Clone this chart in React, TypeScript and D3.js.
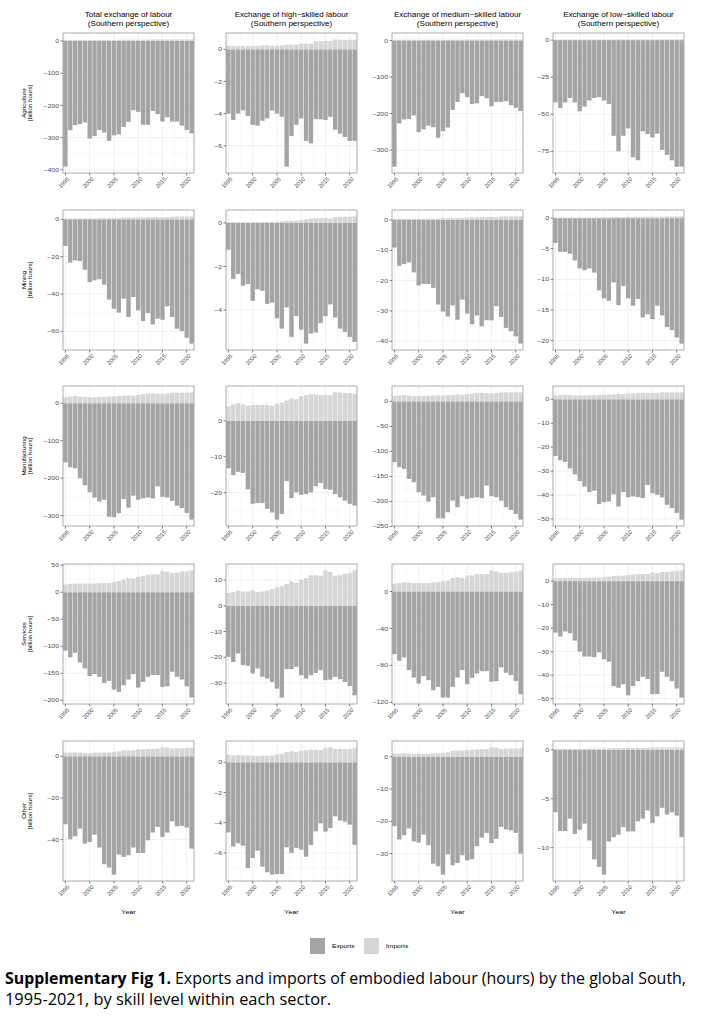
import React from 'react';
import * as d3 from 'd3';

// ---------- categories ----------
const years = [1995,1996,1997,1998,1999,2000,2001,2002,2003,2004,2005,2006,2007,2008,2009,2010,2011,2012,2013,2014,2015,2016,2017,2018,2019,2020,2021];
const yearTicks = [1995, 2000, 2005, 2010, 2015, 2020];
const rowLabels = ['Agriculture', 'Mining', 'Manufacturing', 'Services', 'Other'];
const colTitles = [
  'Total exchange of labour',
  'Exchange of high\u2212skilled labour',
  'Exchange of medium\u2212skilled labour',
  'Exchange of low\u2212skilled labour',
];
const colSubtitle = '(Southern perspective)';
const unitLabel = '[billion hours]';
const legendLabels = ['Exports', 'Imports'];

// ---------- Agriculture ----------
const agriTotalExp = [-390,-277,-261,-258,-253,-303,-295,-276,-284,-310,-293,-290,-267,-251,-215,-220,-260,-260,-217,-227,-250,-237,-250,-250,-263,-276,-287];
const agriTotalImp = [3,3,3,3,3,3,3,3,3,3,3,4,4,4,4,4,4,4,5,5,5,5,5,5,5,5,5];
const agriHighExp = [-4.0,-4.4,-4.0,-3.8,-4.15,-4.7,-4.75,-4.45,-4.3,-3.8,-4.0,-4.2,-7.3,-5.4,-4.7,-4.3,-5.7,-5.85,-4.35,-4.35,-4.4,-4.2,-5.0,-5.25,-5.45,-5.7,-5.7];
const agriHighImp = [0.22,0.22,0.2,0.2,0.2,0.2,0.22,0.25,0.25,0.22,0.22,0.25,0.28,0.28,0.3,0.35,0.35,0.35,0.5,0.5,0.52,0.52,0.62,0.6,0.58,0.6,0.6];
const agriMedExp = [-345,-227,-216,-215,-205,-250,-243,-233,-237,-266,-248,-238,-190,-168,-144,-155,-174,-172,-152,-158,-180,-168,-168,-166,-177,-184,-193];
const agriMedImp = [2,2,2,2,2,2,2,2,2,2,2,2,2,2,2,2.5,2.5,2.5,2.5,2.5,2.5,2.5,3,3,3,3,3];
const agriLowExp = [-42,-45.7,-42,-39,-42,-48,-44.8,-40.7,-39,-38.5,-40.7,-43,-64.5,-75,-64.5,-59.5,-79,-81,-61.5,-63.3,-65.6,-63,-74,-77.4,-81,-85.3,-85.3];
const agriLowImp = [0.3,0.3,0.3,0.3,0.3,0.3,0.3,0.3,0.3,0.3,0.3,0.3,0.35,0.35,0.35,0.4,0.4,0.4,0.4,0.4,0.45,0.45,0.45,0.5,0.5,0.5,0.5];

// ---------- Mining ----------
const miningTotalExp = [-14.3,-23.2,-22,-22.3,-27,-33.6,-32.7,-32.1,-35,-43,-47.9,-50,-42.5,-52.3,-41.6,-48.8,-54.5,-50.2,-56.3,-53.2,-53.8,-46.6,-52.3,-58.6,-59.8,-63.4,-66.6];
const miningTotalImp = [0.5,0.5,0.5,0.5,0.5,0.5,0.5,0.6,0.6,0.7,0.8,0.8,0.9,1.0,0.9,1.0,1.1,1.1,1.2,1.2,1.2,1.2,1.4,1.5,1.5,1.5,1.6];
const miningHighExp = [-1.23,-2.57,-2.34,-2.88,-2.8,-3.58,-3.05,-3.12,-3.72,-3.66,-4.38,-4.85,-3.88,-5.23,-4.28,-4.9,-5.54,-5.08,-5.03,-4.6,-4.28,-3.74,-4.34,-4.85,-5.0,-5.23,-5.46];
const miningHighImp = [0.02,0.03,0.03,0.03,0.03,0.03,0.03,0.04,0.04,0.05,0.06,0.07,0.09,0.1,0.1,0.13,0.17,0.2,0.22,0.22,0.22,0.2,0.27,0.28,0.28,0.28,0.3];
const miningMedExp = [-9.1,-15.1,-14.5,-14,-17.3,-21.6,-21.1,-21.1,-22.4,-27.9,-30.2,-31.8,-28.2,-32.9,-26.3,-30.9,-34.4,-31.5,-35.1,-33.1,-33.1,-28.5,-32,-35.6,-36.7,-38.4,-40.8];
const miningMedImp = [0.4,0.4,0.4,0.4,0.4,0.4,0.4,0.45,0.45,0.5,0.6,0.6,0.7,0.75,0.7,0.8,0.9,0.9,1.0,1.0,1.0,0.95,1.1,1.2,1.2,1.2,1.2];
const miningLowExp = [-4.05,-5.5,-5.5,-5.8,-6.9,-8.2,-8.5,-8.2,-8.9,-11.8,-13.1,-13.5,-10.5,-14.2,-11.1,-13.1,-14.3,-13.2,-16.2,-15.7,-16.5,-14.3,-15.9,-17.8,-18.3,-19.5,-20.5];
const miningLowImp = [0.1,0.1,0.1,0.1,0.1,0.1,0.1,0.12,0.12,0.13,0.15,0.15,0.18,0.2,0.18,0.2,0.22,0.22,0.24,0.24,0.24,0.23,0.26,0.28,0.28,0.28,0.3];

// ---------- Manufacturing ----------
const manufTotalExp = [-158,-171,-174,-200,-219,-238,-252,-263,-258,-303,-304,-294,-256,-279,-247,-258,-254,-252,-254,-222,-250,-252,-261,-274,-280,-293,-311];
const manufTotalImp = [16,18,19,17,16,16,16,17,17,18,18,19,20,21,20,22,24,26,26,25,25,26,28,28,28,28,29];
const manufHighExp = [-13.2,-15.1,-14.2,-14.5,-19.1,-23.1,-22.9,-22.9,-24.5,-25.5,-27.5,-25.9,-16.8,-21.5,-19.9,-20.6,-20.4,-19.9,-18.2,-17.3,-19,-19.2,-20.4,-21.3,-22.2,-23.1,-23.6];
const manufHighImp = [4.0,4.6,4.9,4.6,4.2,4.4,4.4,4.4,4.4,4.2,4.7,5.1,5.6,6.2,6.0,6.8,7.1,7.4,7.3,7.1,7.2,7.1,7.9,7.9,7.7,7.7,7.5];
const manufMedExp = [-121.6,-131.6,-135,-155,-161.7,-181.7,-188.4,-200.4,-191.7,-233.8,-233.8,-221.8,-198.4,-211.8,-189.7,-195,-193,-191.7,-193.7,-168.3,-189.7,-191.7,-198.4,-211.8,-217,-225,-236.5];
const manufMedImp = [11,12,12.5,11.5,10.5,11,11,11,11.5,12,12,12.5,13,14,13,14.5,15.5,17,17,16,16,16.5,18,18,18,18,18];
const manufLowExp = [-23.7,-25.5,-26.2,-28.9,-31.4,-34.2,-36.5,-38.8,-38.2,-43.8,-43,-42.7,-39.7,-44.8,-38.8,-40.9,-40.6,-40.9,-41.3,-35.8,-39.3,-39.9,-41,-44.1,-45.5,-47.5,-50.3];
const manufLowImp = [1.6,1.8,1.9,1.8,1.6,1.6,1.6,1.7,1.7,1.8,1.9,2.0,2.1,2.3,2.2,2.4,2.5,2.7,2.7,2.6,2.6,2.7,2.9,2.9,2.9,2.9,2.9];

// ---------- Services ----------
const servTotalExp = [-108,-120.5,-112,-130,-141,-155,-151.5,-156.5,-167.7,-164,-180,-184.5,-172,-161.5,-151.5,-176.4,-166,-156.5,-153.4,-153.4,-175,-174,-147,-156.5,-161.5,-174,-195];
const servTotalImp = [14.3,15.5,16.1,16,16,16,16,16.8,16.8,17.4,18.6,20.5,23.6,26,25.5,28.6,29.8,32.3,33,33,39,38,35.4,36,38,38.5,40.4];
const servHighExp = [-19.8,-21.8,-18.5,-23.1,-23.3,-26.3,-24.4,-27.6,-28.3,-29.6,-32.2,-35.7,-24.6,-24.6,-23.7,-27,-28.3,-27,-26.1,-25,-28.9,-28.7,-27.6,-28.5,-29.6,-31.2,-34.8];
const servHighImp = [4.95,5.3,5.9,5.6,5.6,6.0,5.3,5.6,5.9,6.5,7.2,7.8,8.5,9.5,8.9,10.2,10.8,11.9,11.9,11.7,13.8,13.2,11.7,11.9,12.5,12.8,13.8];
const servMedExp = [-67.8,-75,-71.4,-85.1,-93.1,-99.6,-91.7,-96,-106.9,-103.3,-114.9,-114.9,-103.3,-93.1,-85.1,-100.4,-93.5,-88.8,-86.2,-86.2,-97.8,-97.1,-82.2,-88,-90.6,-97.1,-111.2];
const servMedImp = [8.3,9,9.8,9.8,9,9,9,9,9.8,10.1,10.9,11.6,14.5,15.2,14.5,17,17.4,18.8,18.8,18.8,22.8,21.4,20,20,20.7,21.4,22.5];
const servLowExp = [-21.9,-23.6,-21.4,-22.1,-25.3,-30,-32.1,-32.1,-32.4,-30.3,-33.3,-34.3,-44.7,-45.4,-43.9,-48.6,-44.7,-42.6,-40.7,-41.7,-48.1,-48.1,-38.6,-40.7,-42.6,-45.7,-49.6];
const servLowImp = [1.2,1.3,1.4,1.4,1.4,1.4,1.4,1.5,1.5,1.6,1.8,1.9,2.2,2.4,2.3,2.6,2.8,3.0,3.1,3.1,3.6,3.5,3.9,4.0,4.2,4.3,4.6];

// ---------- Other ----------
const otherTotalExp = [-32.6,-39.8,-38.4,-34.7,-41.9,-41.1,-37.6,-43.8,-51.8,-53.4,-56.8,-47.2,-48.3,-47.5,-43.8,-46.4,-46.4,-40.3,-36.6,-33.9,-38.7,-36.6,-31.2,-33.6,-33.4,-34.2,-44.3];
const otherTotalImp = [1.8,1.8,1.9,1.8,1.6,1.6,1.8,1.8,1.9,1.9,2.2,2.4,2.9,2.9,2.9,3.4,3.4,3.5,3.5,3.7,4.3,4.2,3.8,3.8,3.8,4.0,4.2];
const otherHighExp = [-4.64,-5.58,-5.36,-5.52,-7.0,-6.34,-5.85,-6.91,-7.28,-7.44,-7.4,-7.4,-5.63,-6.0,-5.67,-5.78,-6.25,-5.47,-4.57,-4.04,-4.59,-4.35,-3.58,-3.86,-3.93,-4.13,-5.47];
const otherHighImp = [0.51,0.46,0.49,0.44,0.46,0.44,0.42,0.44,0.44,0.46,0.53,0.57,0.68,0.73,0.7,0.77,0.8,0.84,0.84,0.82,0.97,0.99,0.88,0.88,0.88,0.88,0.93];
const otherMedExp = [-21.5,-25.6,-24.3,-22.2,-26.2,-26.6,-24.1,-27.4,-33.1,-33.9,-36.5,-30.2,-33.6,-32.9,-30.5,-32.1,-31.7,-27.7,-25,-23.6,-26.7,-25.4,-21.7,-22.5,-22.8,-23.6,-30];
const otherMedImp = [1.0,1.0,1.1,1.0,0.9,0.9,0.9,1.0,1.0,1.1,1.2,1.4,1.8,1.9,1.9,2.1,2.2,2.3,2.4,2.4,2.9,2.8,2.4,2.5,2.5,2.6,2.6];
const otherLowExp = [-6.38,-8.3,-8.3,-7.03,-8.6,-8.17,-7.55,-9.27,-11.2,-11.97,-12.76,-9.38,-8.93,-8.69,-7.9,-8.34,-8.34,-7.31,-7.03,-6.2,-7.48,-6.8,-5.93,-6.62,-6.38,-6.72,-8.93];
const otherLowImp = [0.12,0.12,0.12,0.12,0.11,0.11,0.11,0.12,0.12,0.13,0.14,0.15,0.17,0.18,0.18,0.2,0.2,0.21,0.21,0.21,0.25,0.24,0.22,0.22,0.23,0.23,0.24];

// ---------- y tick labels per panel ----------
const agriTicks = [[0,-100,-200,-300,-400],[0,-2,-4,-6],[0,-100,-200,-300],[0,-25,-50,-75]];
const miningTicks = [[0,-20,-40,-60],[0,-2,-4],[0,-10,-20,-30,-40],[0,-5,-10,-15,-20]];
const manufTicks = [[0,-100,-200,-300],[0,-10,-20],[0,-50,-100,-150,-200,-250],[0,-10,-20,-30,-40,-50]];
const servTicks = [[50,0,-50,-100,-150,-200],[10,0,-10,-20,-30],[0,-40,-80,-120],[0,-10,-20,-30,-40,-50]];
const otherTicks = [[0,-20,-40],[0,-2,-4,-6],[0,-10,-20,-30],[0,-5,-10]];

const exportsGrid = [
  [agriTotalExp, agriHighExp, agriMedExp, agriLowExp],
  [miningTotalExp, miningHighExp, miningMedExp, miningLowExp],
  [manufTotalExp, manufHighExp, manufMedExp, manufLowExp],
  [servTotalExp, servHighExp, servMedExp, servLowExp],
  [otherTotalExp, otherHighExp, otherMedExp, otherLowExp],
];
const importsGrid = [
  [agriTotalImp, agriHighImp, agriMedImp, agriLowImp],
  [miningTotalImp, miningHighImp, miningMedImp, miningLowImp],
  [manufTotalImp, manufHighImp, manufMedImp, manufLowImp],
  [servTotalImp, servHighImp, servMedImp, servLowImp],
  [otherTotalImp, otherHighImp, otherMedImp, otherLowImp],
];
const ticksGrid = [agriTicks, miningTicks, manufTicks, servTicks, otherTicks];

// ---------- layout & style ----------
const COL_X = [63, 226, 392, 553];
const ROW_Y = [33, 210, 386, 564, 741];
const PW = 131;
const PH = 140;
const SX = 1.15;
const FONT = '"Liberation Sans", Arial, Helvetica, sans-serif';
const EXP_COLOR = '#a4a4a4';
const IMP_COLOR = '#d6d6d6';
const AXIS_TEXT = '#4d4d4d';

const fmt = (v: number) => (v < 0 ? '\u2212' + Math.abs(v) : String(v));

function HText(props: any) {
  const { x, y, size, anchor = 'start', fill = '#000', weight, children, dy } = props;
  return (
    <text
      transform={`translate(${x},${y}) scale(${SX},1)`}
      fontSize={size}
      textAnchor={anchor}
      fill={fill}
      fontWeight={weight}
      fontFamily={FONT}
      dy={dy}
    >
      {children}
    </text>
  );
}

function Panel({ x0, y0, exp, imp, ticks, showYear }: any) {
  const x = d3.scaleLinear().domain([1994.5, 2021.5]).range([x0, x0 + PW]);
  const lo = Math.min(0, d3.min(exp) as number);
  const hi = Math.max(0, d3.max(imp) as number);
  const r = hi - lo;
  const dom: [number, number] = [lo - 0.05 * r, hi + 0.05 * r];
  const y = d3.scaleLinear().domain(dom).range([y0 + PH, y0]);
  const step = Math.abs(ticks[0] - ticks[1]);
  const half = step / 2;
  const minorY: number[] = [];
  for (let k = Math.ceil(dom[0] / half); k <= Math.floor(dom[1] / half); k++) {
    if (Math.abs(k) % 2 === 1) minorY.push(k * half);
  }
  const minorX = yearTicks.slice(0, -1).map((t) => t + 2.5);
  const bw = 0.9;
  return (
    <g>
      <rect x={x0} y={y0} width={PW} height={PH} fill="#fff" />
      {minorY.map((v, i) => (
        <line key={'my' + i} x1={x0} x2={x0 + PW} y1={y(v)} y2={y(v)} stroke="#f2f2f2" strokeWidth={0.4} />
      ))}
      {minorX.map((v, i) => (
        <line key={'mx' + i} x1={x(v)} x2={x(v)} y1={y0} y2={y0 + PH} stroke="#f2f2f2" strokeWidth={0.4} />
      ))}
      {ticks.map((v: number, i: number) => (
        <line key={'gy' + i} x1={x0} x2={x0 + PW} y1={y(v)} y2={y(v)} stroke="#e6e6e6" strokeWidth={0.6} />
      ))}
      {yearTicks.map((v, i) => (
        <line key={'gx' + i} x1={x(v)} x2={x(v)} y1={y0} y2={y0 + PH} stroke="#e6e6e6" strokeWidth={0.6} />
      ))}
      {years.map((yr, i) => (
        <rect
          key={'e' + yr}
          x={x(yr - bw / 2)}
          width={x(yr + bw / 2) - x(yr - bw / 2)}
          y={y(0)}
          height={y(exp[i]) - y(0)}
          fill={EXP_COLOR}
        />
      ))}
      {years.map((yr, i) => (
        <rect
          key={'i' + yr}
          x={x(yr - bw / 2)}
          width={x(yr + bw / 2) - x(yr - bw / 2)}
          y={y(imp[i])}
          height={y(0) - y(imp[i])}
          fill={IMP_COLOR}
        />
      ))}
      <rect x={x0} y={y0} width={PW} height={PH} fill="none" stroke="#8a8a8a" strokeWidth={0.7} />
      {ticks.map((v: number, i: number) => (
        <g key={'ty' + i}>
          <line x1={x0 - 2.5} x2={x0} y1={y(v)} y2={y(v)} stroke="#333" strokeWidth={0.6} />
          <HText x={x0 - 4} y={y(v)} size={6} anchor="end" fill={AXIS_TEXT} dy="0.35em">
            {fmt(v)}
          </HText>
        </g>
      ))}
      {yearTicks.map((v, i) => (
        <g key={'tx' + i}>
          <line x1={x(v)} x2={x(v)} y1={y0 + PH} y2={y0 + PH + 2.5} stroke="#333" strokeWidth={0.6} />
          <text
            transform={`translate(${x(v) + 1.5},${y0 + PH + 3.5}) rotate(-45)`}
            fontSize={5.8}
            textAnchor="end"
            dy="0.7em"
            fill={AXIS_TEXT}
            fontFamily={FONT}
          >
            {v}
          </text>
        </g>
      ))}
      {showYear && (
        <HText x={x0 + PW / 2} y={y0 + PH + 33} size={6.2} anchor="middle" fill="#000">
          Year
        </HText>
      )}
    </g>
  );
}

export default function App() {
  return (
    <svg
      width={702}
      height={1024}
      viewBox="0 0 702 1024"
      style={{ position: 'absolute', left: 0, top: 0, background: '#fff' }}
    >
      <rect x={0} y={0} width={702} height={1024} fill="#fff" />
      {colTitles.map((t, c) => (
        <g key={'ct' + c}>
          <HText x={COL_X[c] + PW / 2} y={16.5} size={7} anchor="middle">
            {t}
          </HText>
          <HText x={COL_X[c] + PW / 2} y={25.5} size={7} anchor="middle">
            {colSubtitle}
          </HText>
        </g>
      ))}
      {rowLabels.map((lab, r) => {
        const cy = ROW_Y[r] + PH / 2;
        return (
          <g key={'rl' + r}>
            <text transform={`translate(25.5,${cy}) rotate(-90)`} fontSize={6.2} textAnchor="middle" fontFamily={FONT} fill="#000">
              {lab}
            </text>
            <text transform={`translate(32,${cy}) rotate(-90)`} fontSize={6.2} textAnchor="middle" fontFamily={FONT} fill="#000">
              {unitLabel}
            </text>
          </g>
        );
      })}
      {ROW_Y.map((ry, r) =>
        COL_X.map((cx, c) => (
          <Panel
            key={r + '-' + c}
            x0={cx}
            y0={ry}
            exp={exportsGrid[r][c]}
            imp={importsGrid[r][c]}
            ticks={ticksGrid[r][c]}
            showYear={r === ROW_Y.length - 1}
          />
        ))
      )}
      {/* legend */}
      <rect x={310} y={938} width={15} height={16} fill={EXP_COLOR} />
      <HText x={332} y={946} size={5.8} dy="0.35em" fill="#000">
        {legendLabels[0]}
      </HText>
      <rect x={364} y={938} width={15} height={16} fill={IMP_COLOR} />
      <HText x={386} y={946} size={5.8} dy="0.35em" fill="#000">
        {legendLabels[1]}
      </HText>
      {/* caption */}
      <text x={5} y={984} fontSize={16} fontWeight="bold" fontFamily='"Open Sans", sans-serif' textLength={166} lengthAdjust="spacingAndGlyphs" fill="#000">
        Supplementary Fig 1.
      </text>
      <text x={175} y={984} fontSize={16} fontFamily='"Open Sans", sans-serif' textLength={511} lengthAdjust="spacingAndGlyphs" fill="#000">
        Exports and imports of embodied labour (hours) by the global South,
      </text>
      <text x={5} y={1005} fontSize={16} fontFamily='"Open Sans", sans-serif' textLength={326} lengthAdjust="spacingAndGlyphs" fill="#000">
        1995-2021, by skill level within each sector.
      </text>
    </svg>
  );
}
